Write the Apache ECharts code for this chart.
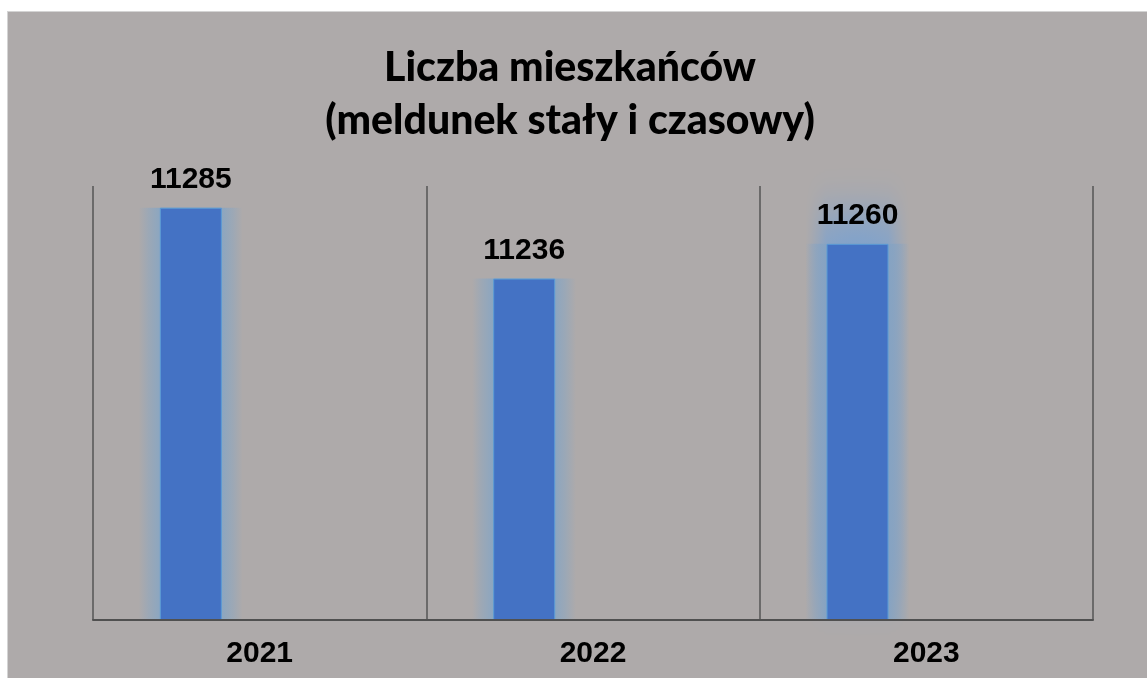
<!DOCTYPE html>
<html>
<head>
<meta charset="utf-8">
<script src="https://cdn.jsdelivr.net/npm/echarts@6/dist/echarts.min.js"></script>
<style>
  html, body { margin: 0; padding: 0; background: #fff; }
  #chart {
    position: absolute; left: 7px; top: 11px;
    width: 1139px; height: 666px;
    border-left: 1px solid #d4d4d4; border-top: 1px solid #d4d4d4;
    background: #aeaaaa;
  }
</style>
</head>
<body>
<div id="chart"></div>
<script>
// dane z wykresu
var years = ['2021', '2022', '2023'];
var residents = [11285, 11236, 11260];
var empty = ['-', '-', '-'];

var chart = echarts.init(document.getElementById('chart'));

// miekka poswiata: poziomy gradient zanikajacy na brzegach
function glowFill(c) {
  return new echarts.graphic.LinearGradient(0, 0, 1, 0, [
    { offset: 0, color: 'rgba(' + c + ',0)' },
    { offset: 0.1, color: 'rgba(' + c + ',0.55)' },
    { offset: 0.2, color: 'rgba(' + c + ',1)' },
    { offset: 0.8, color: 'rgba(' + c + ',1)' },
    { offset: 0.9, color: 'rgba(' + c + ',0.55)' },
    { offset: 1, color: 'rgba(' + c + ',0)' }
  ]);
}

// ostatni slupek ma wieksza poswiate, siegajaca wyzej
var glowData = residents.map(function (v, i) {
  if (i === 2) {
    return {
      value: v,
      itemStyle: { color: glowFill('134,163,194'), shadowBlur: 44, shadowOffsetY: -30, shadowColor: '#7fa2cc' }
    };
  }
  return v;
});

chart.setOption({
  backgroundColor: '#aeaaaa',
  title: {
    text: 'Liczba mieszkańców\n(meldunek stały i czasowy)',
    left: 557,
    top: 24,
    textAlign: 'center',
    textStyle: {
      fontFamily: 'Lato',
      fontWeight: 900,
      fontSize: 41,
      lineHeight: 53,
      color: '#000'
    }
  },
  grid: { left: 85, right: 54, top: 174, bottom: 58 },
  xAxis: [
    {
      type: 'category',
      data: years,
      axisTick: { show: false },
      axisLine: { lineStyle: { color: '#505050', width: 2 } },
      axisLabel: {
        margin: 19,
        fontFamily: 'Liberation Sans',
        fontWeight: 'bold',
        fontSize: 30,
        color: '#000'
      },
      splitLine: { show: true, lineStyle: { color: '#555', width: 1.5 } },
      z: 5
    },
    {
      type: 'category',
      data: years,
      show: false
    }
  ],
  yAxis: {
    type: 'value',
    min: 11000,
    max: 11300,
    show: false,
    splitLine: { show: false }
  },
  series: [
    {
      type: 'bar',
      xAxisIndex: 1,
      data: glowData,
      barWidth: 104,
      barGap: '32.7%',
      z: 1,
      silent: true,
      itemStyle: {
        color: glowFill('140,166,192'),
        shadowBlur: 22,
        shadowOffsetY: -12,
        shadowColor: '#8ca6c0'
      }
    },
    {
      type: 'bar',
      xAxisIndex: 1,
      data: empty,
      barWidth: 104
    },
    {
      type: 'bar',
      data: residents,
      barWidth: 62,
      barGap: '122%',
      z: 3,
      itemStyle: {
        color: '#4472c4',
        borderColor: '#5b9bd5',
        borderWidth: 1
      },
      label: {
        show: true,
        position: 'top',
        distance: 13,
        fontFamily: 'Liberation Sans',
        fontWeight: 'bold',
        fontSize: 30,
        color: '#000'
      }
    },
    {
      type: 'bar',
      data: empty,
      barWidth: 62
    }
  ]
});
</script>
</body>
</html>
